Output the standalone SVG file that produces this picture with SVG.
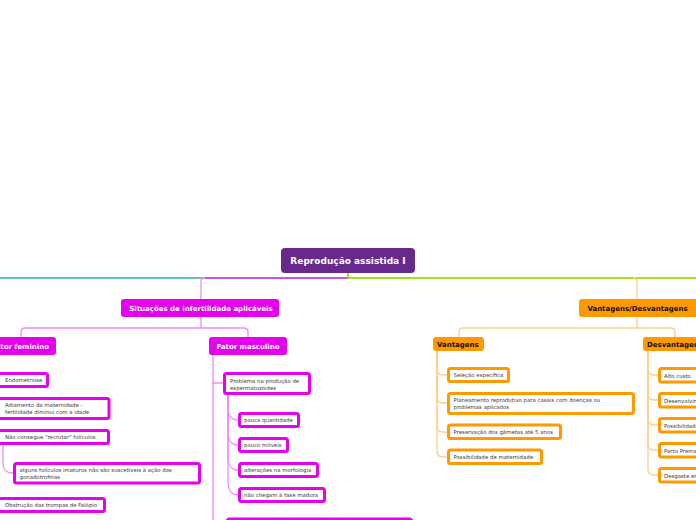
<svg xmlns="http://www.w3.org/2000/svg" width="696" height="520" viewBox="0 0 696 520">
<style>
.hdr{font-family:"DejaVu Sans",Verdana,sans-serif;font-weight:bold;font-size:7px}
.w{fill:#ffffff}
.k{fill:#111111}
.t{font-family:"DejaVu Sans",Verdana,sans-serif;font-size:5.4px;fill:#3a3a3a}
.mg{fill:#ffffff;stroke:#e500ee;stroke-width:3}
.og{fill:#ffffff;stroke:#ff9900;stroke-width:3}
.cm{fill:none;stroke:#f08cf8;stroke-width:1.3}
.co{fill:none;stroke:#ffcf8a;stroke-width:1.3}
</style>
<rect width="696" height="520" fill="#ffffff"/>
<g id="connectors">
<path d="M0,278 H205" fill="none" stroke="#5cc4c0" stroke-width="2"/>
<path d="M348,278 H205" fill="none" stroke="#c055ec" stroke-width="2"/>
<path d="M205,278 Q201,278 201,282 V299" class="cm" stroke="#e070f0"/>
<path d="M348,278 H696" fill="none" stroke="#9fe020" stroke-width="2"/>
<path d="M348,273 V278" fill="none" stroke="#9fe020" stroke-width="2"/>
<path d="M633,278 Q637,278 637,282 V299" class="co"/>
<path d="M201,317 V328 M201,328 H25 Q21,328 21,332 V337 M201,328 H244 Q248,328 248,332 V337" class="cm"/>
<path d="M213,355 V520 M213,383 H224" class="cm"/>
<path d="M228,394 L228,406 C228,416 231,420 238,420" class="cm"/>
<path d="M228,394 L228,431 C228,441 231,445 238,445" class="cm"/>
<path d="M228,394 L228,456 C228,466 231,470 238,470" class="cm"/>
<path d="M228,394 L228,481 C228,491 231,495 238,495" class="cm"/>
<path d="M3,445 L3,462 C3,470 6,473 13,473" class="cm"/>
<path d="M637,317 V328 M637,328 H463 Q459,328 459,332 V337 M637,328 H671 Q675,328 675,332 V337" class="co"/>
<path d="M437,351 V369 Q437,375 443,375 H447" class="co"/>
<path d="M437,351 V397 Q437,403 443,403 H447" class="co"/>
<path d="M437,351 V426 Q437,432 443,432 H447" class="co"/>
<path d="M437,351 V451 Q437,457 443,457 H447" class="co"/>
<path d="M648,351 V369 Q648,375 654,375 H658" class="co"/>
<path d="M648,351 V394 Q648,400 654,400 H658" class="co"/>
<path d="M648,351 V419 Q648,425 654,425 H658" class="co"/>
<path d="M648,351 V444 Q648,450 654,450 H658" class="co"/>
<path d="M648,351 V469 Q648,475 654,475 H658" class="co"/>
</g>
<g id="root">
<rect x="281" y="248" width="134" height="25" rx="4" fill="#68298c"/>
<text x="348" y="264" text-anchor="middle" class="hdr w" style="font-size:9px">Reprodução assistida I</text>
</g>
<g id="situacoes">
<rect x="121" y="299" width="158" height="18" rx="3" fill="#e500ee"/>
<text x="201" y="310.5" text-anchor="middle" class="hdr w">Situações de infertilidade aplicáveis</text>
</g>
<g id="fator-feminino">
<rect x="-40" y="337" width="96" height="18" rx="3" fill="#e500ee"/>
<text x="49" y="348.5" text-anchor="end" class="hdr w">Fator feminino</text>
</g>
<g id="fator-masculino">
<rect x="209" y="337" width="78" height="18" rx="3" fill="#e500ee"/>
<text x="248" y="348.5" text-anchor="middle" class="hdr w">Fator masculino</text>
</g>
<g id="endometriose">
<rect x="-10" y="373.5" width="57.5" height="13" rx="2" class="mg"/>
<text x="5" y="382" class="t">Endometriose</text>
</g>
<g id="adiamento">
<rect x="-10" y="398.5" width="119" height="20" rx="2" class="mg"/>
<text x="5" y="407" class="t">Adiamento da maternidade -</text>
<text x="5" y="414" class="t">fertilidade diminui com a idade</text>
</g>
<g id="nao-consegue">
<rect x="-10" y="430.5" width="118.5" height="13" rx="2" class="mg"/>
<text x="5" y="439" class="t">Não consegue "recrutar" folículos</text>
</g>
<g id="alguns-foliculos">
<rect x="14.5" y="463.5" width="185" height="19.5" rx="2" class="mg"/>
<text x="19.5" y="472" class="t">alguns folículos imaturos não são suscetíveis à ação das</text>
<text x="19.5" y="479" class="t">gonadotrofinas</text>
</g>
<g id="obstrucao">
<rect x="-10" y="498.5" width="114.5" height="13" rx="2" class="mg"/>
<text x="5" y="507" class="t">Obstrução das trompas de Falópio</text>
</g>
<g id="problema">
<rect x="224.5" y="373.5" width="85" height="20" rx="2" class="mg"/>
<text x="230" y="383" class="t">Problema na produção de</text>
<text x="230" y="389.5" class="t">espermatozóides</text>
</g>
<g id="pouca-quantidade">
<rect x="239.5" y="413.5" width="59" height="13" rx="2" class="mg"/>
<text x="244" y="422" class="t">pouca quantidade</text>
</g>
<g id="pouco-moveis">
<rect x="239.5" y="438.5" width="48" height="13" rx="2" class="mg"/>
<text x="244" y="447" class="t">pouco móveis</text>
</g>
<g id="alteracoes">
<rect x="239.5" y="463.5" width="78" height="13" rx="2" class="mg"/>
<text x="244" y="472" class="t">alterações na morfologia</text>
</g>
<g id="nao-chegam">
<rect x="239.5" y="488.5" width="85" height="13" rx="2" class="mg"/>
<text x="244" y="497" class="t">não chegam à fase madura</text>
</g>
<g id="partial-node">
<rect x="227.5" y="519" width="184" height="20" rx="2" class="mg"/>
</g>
<g id="vantagens-desvantagens">
<rect x="579" y="299" width="130" height="18" rx="3" fill="#ff9900"/>
<text x="637.5" y="310.5" text-anchor="middle" class="hdr k">Vantagens/Desvantagens</text>
</g>
<g id="vantagens">
<rect x="433" y="337" width="51" height="14" rx="3" fill="#ff9900"/>
<text x="437" y="346.5" class="hdr k">Vantagens</text>
</g>
<g id="desvantagens">
<rect x="643" y="337" width="80" height="14" rx="3" fill="#ff9900"/>
<text x="647" y="346.5" class="hdr k">Desvantagens</text>
</g>
<g id="selecao">
<rect x="448.5" y="368.5" width="60" height="13" rx="2" class="og"/>
<text x="453.5" y="377" class="t">Seleção específica</text>
</g>
<g id="planeamento">
<rect x="448.5" y="393.5" width="185" height="20" rx="2" class="og"/>
<text x="453.5" y="402" class="t">Planeamento reprodutivo para casais com doenças ou</text>
<text x="453.5" y="409" class="t">problemas aplicados</text>
</g>
<g id="preservacao">
<rect x="448.5" y="425" width="112" height="13.5" rx="2" class="og"/>
<text x="453.5" y="434" class="t">Preservação dos gâmetas até 5 anos</text>
</g>
<g id="possibilidade-maternidade">
<rect x="448.5" y="450" width="93" height="13.5" rx="2" class="og"/>
<text x="453.5" y="459" class="t">Possibilidade de maternidade</text>
</g>
<g id="alto-custo">
<rect x="659.5" y="368.5" width="80" height="13.5" rx="2" class="og"/>
<text x="664" y="377.5" class="t">Alto custo</text>
</g>
<g id="desenvolvimento">
<rect x="659.5" y="393.5" width="80" height="13.5" rx="2" class="og"/>
<text x="664" y="402.5" class="t">Desenvolvimento</text>
</g>
<g id="possibilidade">
<rect x="659.5" y="418.5" width="80" height="13.5" rx="2" class="og"/>
<text x="664" y="427.5" class="t">Possibilidade</text>
</g>
<g id="parto-prematuro">
<rect x="659.5" y="443.5" width="80" height="13.5" rx="2" class="og"/>
<text x="664" y="452.5" class="t">Parto Prematuro</text>
</g>
<g id="desgaste">
<rect x="659.5" y="468.5" width="80" height="13.5" rx="2" class="og"/>
<text x="664" y="477.5" class="t">Desgaste emocional</text>
</g>
</svg>
